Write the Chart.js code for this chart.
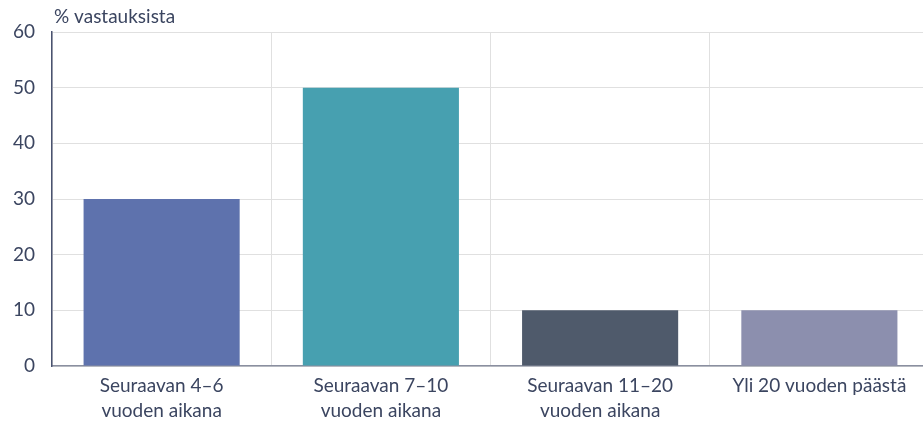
<!DOCTYPE html>
<html>
<head>
<meta charset="utf-8">
<script src="https://cdn.jsdelivr.net/npm/chart.js@4"></script>
<style>
  html, body { margin: 0; padding: 0; background: #fff; overflow: hidden; }
  #wrap { width: 929px; height: 431px; }
</style>
</head>
<body>
<div id="wrap"><canvas id="chart" width="929" height="431"></canvas></div>
<script>
// Tiedot
var categories = [
    ['Seuraavan 4–6', 'vuoden aikana'],
    ['Seuraavan 7–10', 'vuoden aikana'],
    ['Seuraavan 11–20', 'vuoden aikana'],
    'Yli 20 vuoden päästä'
];
var values = [30, 50, 10, 10];
var barColors = ['#5e72ad', '#47a0b0', '#4f5a6b', '#8c8fae'];
var axisTitle = '% vastauksista';

var textColor = '#3b4560';
var fontFamily = 'Lato, "Open Sans", sans-serif';

// otsikko y-akselin yläpuolelle
var topTitle = {
    id: 'topTitle',
    afterDraw: function (c) {
        var ctx = c.ctx;
        ctx.save();
        ctx.fillStyle = textColor;
        ctx.font = '19px ' + fontFamily;
        ctx.textBaseline = 'alphabetic';
        ctx.textAlign = 'left';
        ctx.fillText(axisTitle, c.chartArea.left + 2, 23);
        ctx.restore();
    }
};

var ctx = document.getElementById('chart').getContext('2d');
var chart = new Chart(ctx, {
    type: 'bar',
    data: {
        labels: categories,
        datasets: [{
            data: values,
            backgroundColor: barColors,
            barPercentage: 0.712,
            categoryPercentage: 1
        }]
    },
    options: {
        responsive: false,
        animation: false,
        layout: { padding: { top: 32, left: 0, right: 0, bottom: 0 } },
        plugins: {
            legend: { display: false },
            tooltip: { enabled: false }
        },
        scales: {
            x: {
                grid: { color: '#e0e0e0', drawTicks: false, offset: true },
                border: { color: '#8a8fa0', width: 1.5 },
                ticks: {
                    color: textColor,
                    font: { family: fontFamily, size: 19, lineHeight: 1.3 },
                    padding: 8,
                    maxRotation: 0,
                    autoSkip: false
                },
                afterFit: function (s) { s.height = 65; }
            },
            y: {
                min: 0,
                max: 60,
                grid: { color: '#e0e0e0', drawTicks: false },
                border: { color: '#4a5370', width: 1.5 },
                ticks: {
                    stepSize: 10,
                    color: textColor,
                    font: { family: fontFamily, size: 19 },
                    padding: 17
                },
                afterFit: function (s) { s.width = 52; }
            }
        }
    },
    plugins: [topTitle]
});
</script>
</body>
</html>
